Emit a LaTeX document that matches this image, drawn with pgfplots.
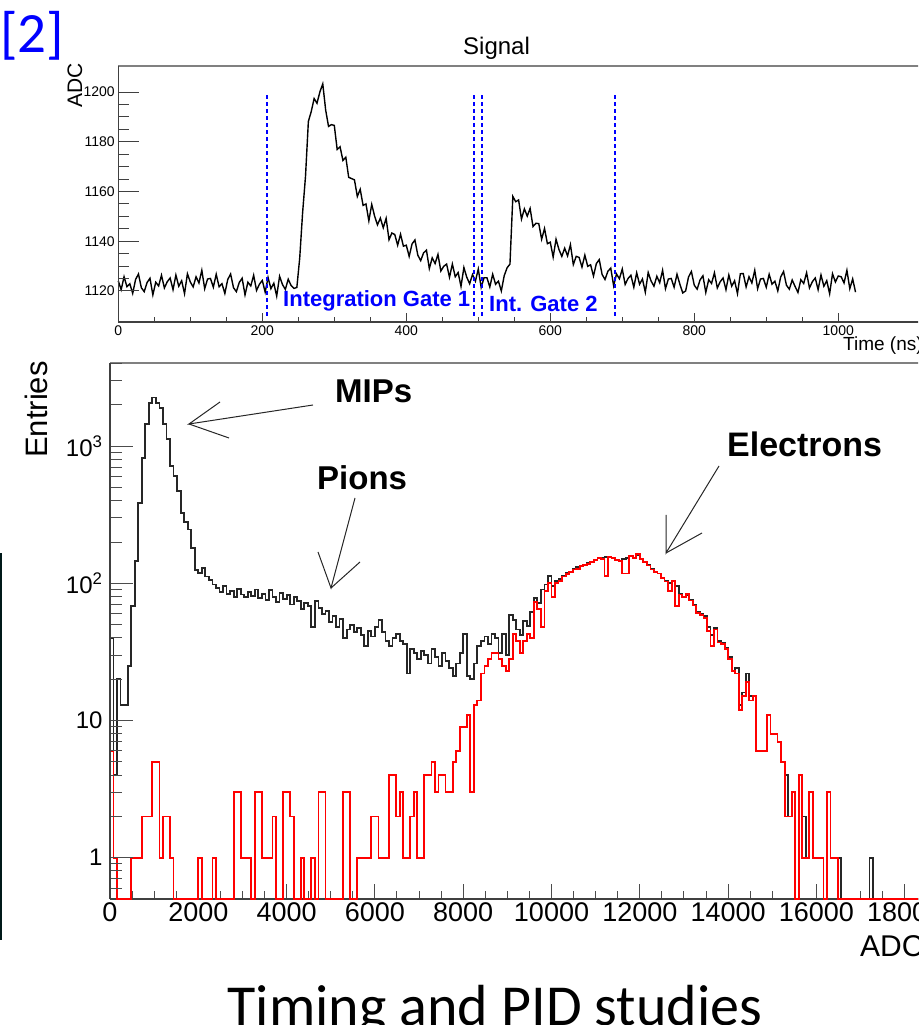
\documentclass[border=0pt]{standalone}
\usepackage{fontspec}
\setmainfont{Liberation Sans}
\newfontfamily\calibrifont{Carlito}
\usepackage{pgfplots}
\usepackage{pgfplotstable}
\pgfplotsset{compat=1.18}
\newcommand\fs[1]{\fontsize{#1}{#1}\selectfont}

% ADC histogram, 80-count bins (left edge, all entries, electrons); 0.5 = empty bin
\pgfplotstableread{
x b r
0 40 6
80 4 1
160 20 0.5
240 13 0.5
320 13 0.5
400 25 0.5
480 68 1
560 145 1
640 387 1
720 823 2
800 1440 2
880 2070 2
960 2260 5
1040 2070 5
1120 1900 1
1200 1440 2
1280 1120 2
1360 715 1
1440 604 0.5
1520 470 0.5
1600 327 0.5
1680 278 0.5
1760 247 0.5
1840 182 0.5
1920 125 0.5
2000 119 1
2080 130 0.5
2160 112 0.5
2240 106 0.5
2320 98 1
2400 92 0.5
2480 86 0.5
2560 95 0.5
2640 84 0.5
2720 88 0.5
2800 80 3
2880 91 3
2960 83 1
3040 79 1
3120 87 1
3200 81 0.5
3280 90 3
3360 78 3
3440 84 1
3520 76 1
3600 89 1
3680 80 2
3760 73 0.5
3840 85 0.5
3920 77 3
4000 82 3
4080 70 2
4160 79 0.5
4240 74 0.5
4320 65 1
4400 72 0.5
4480 68 0.5
4560 48 1
4640 74 0.5
4720 66 3
4800 60 3
4880 63 0.5
4960 52 0.5
5040 58 0.5
5120 48 0.5
5200 55 0.5
5280 40 3
5360 46 3
5440 50 0.5
5520 44 0.5
5600 47 1
5680 42 1
5760 35 1
5840 45 1
5920 41 2
6000 48 2
6080 54 1
6160 44 1
6240 38 1
6320 35 4
6400 40 4
6480 43 2
6560 38 3
6640 36 1
6720 22 1
6800 33 2
6880 31 3
6960 28 1
7040 32 1
7120 30 4
7200 26 4
7280 33 5
7360 29 3
7440 25 4
7520 31 4
7600 27 3
7680 24 3
7760 21 5
7840 26 6
7920 31 9
8000 43 9
8080 21 11
8160 20 3
8240 26 13
8320 35 14
8400 38 22
8480 41 25
8560 36 28
8640 43 31
8720 40 31
8800 31 28
8880 43 25
8960 30 23
9040 59 28
9120 54 43
9200 46 38
9280 42 31
9360 53 38
9440 49 43
9520 62 40
9600 78 73
9680 72 65
9760 90 48
9840 98 88
9920 113 101
10000 96 80
10080 104 100
10160 108 104
10240 114 112
10320 119 117
10400 122 121
10480 127 126
10560 131 128
10640 135 133
10720 137 136
10800 141 139
10880 144 143
10960 148 147
11040 154 153
11120 152 150
11200 155 113
11280 157 156
11360 153 152
11440 148 147
11520 146 145
11600 150 118
11680 152 118
11760 158 158
11840 152 152
11920 160 163
12000 150 150
12080 143 143
12160 136 135
12240 127 126
12320 122 121
12400 118 118
12480 110 109
12560 104 103
12640 101 88
12720 104 104
12800 96 68
12880 84 83
12960 80 80
13040 82 84
13120 76 75
13200 70 69
13280 62 61
13360 60 59
13440 58 56
13520 48 45
13600 42 35
13680 47 46
13760 38 37
13840 37 36
13920 34 33
14000 29 28
14080 23 23
14160 24 22
14240 13 12
14320 16 15
14400 22 19
14480 15 14
14560 15 15
14640 6 6
14720 6 6
14800 6 6
14880 11 11
14960 8 8
15040 8 8
15120 7 7
15200 5 5
15280 4 2
15360 2 2
15440 3 3
15520 0.5 0.5
15600 4 4
15680 2 1
15760 1 1
15840 3 3
15920 1 1
16000 1 1
16080 1 1
16160 0.5 0.5
16240 3 3
16320 1 1
16400 1 1
16480 1 0.5
16560 0.5 0.5
17200 1 0.5
17280 0.5 0.5
18400 0.5 0.5
}\histtab

\begin{document}
\begin{tikzpicture}[x=1pt,y=1pt]
\path[use as bounding box] (0,0) rectangle (918,1025);
\clip (0,0) rectangle (918,1025);

% ---------------- top panel: signal trace ----------------
\begin{axis}[
  at={(118.3pt,703pt)}, anchor=south west,
  scale only axis, width=804.2pt, height=256pt,
  xmin=0, xmax=1117, ymin=1107.5, ymax=1210.5,
  axis line style={black!75, line width=1.2pt},
  tick align=inside, tick style={black!75, line width=1pt},
  tick label style={font=\fs{14}},
  /pgf/number format/1000 sep={}, /pgf/number format/assume math mode=true,
  clip=false,
  hide y axis, axis x line*=bottom, xtick pos=left,
  xtick={0,200,400,600,800,1000}, minor x tick num=3,
  major tick length=9pt, minor tick length=4.5pt,
]
\addplot[black, line width=1.4pt] coordinates {
(0,1124.0) (4,1120.5) (8,1125.7) (12,1121.7) (16,1122.9) (20,1119.0) (24,1124.6) (28,1126.8)
(32,1121.3) (36,1119.7) (40,1123.4) (44,1125.1) (48,1118.4) (52,1123.5) (56,1122.0) (60,1126.3)
(64,1121.2) (68,1123.7) (72,1125.2) (76,1120.5) (80,1126.4) (84,1121.9) (88,1124.1) (92,1118.9)
(96,1126.9) (100,1123.6) (104,1121.6) (108,1125.7) (112,1123.2) (116,1128.3) (120,1120.9) (124,1124.8)
(128,1125.0) (132,1121.5) (136,1126.7) (140,1121.7) (144,1122.9) (148,1119.0) (152,1124.6) (156,1126.8)
(160,1121.3) (164,1119.7) (168,1123.4) (172,1125.1) (176,1118.4) (180,1123.5) (184,1122.0) (188,1126.3)
(192,1120.2) (196,1122.7) (200,1124.2) (204,1119.5) (208,1125.4) (212,1120.9) (216,1123.1) (220,1117.9)
(224,1125.9) (228,1122.6) (232,1120.6) (236,1124.7) (240,1122.2) (244,1121.0) (248,1121.4) (252,1133.3)
(256,1151.5) (260,1166.0) (264,1188.2) (268,1192.2) (272,1197.4) (276,1195.5) (280,1200.1) (284,1203.3)
(288,1192.8) (292,1186.2) (296,1186.9) (300,1186.6) (304,1176.9) (308,1178.0) (312,1172.5) (316,1173.8)
(320,1165.7) (324,1165.2) (328,1164.7) (332,1158.0) (336,1160.9) (340,1154.4) (344,1155.0) (348,1148.2)
(352,1154.8) (356,1150.1) (360,1146.6) (364,1149.3) (368,1145.4) (372,1149.2) (376,1140.6) (380,1143.3)
(384,1142.7) (388,1138.4) (392,1142.8) (396,1138.0) (400,1138.4) (404,1133.9) (408,1138.9) (412,1140.5)
(416,1134.4) (420,1132.2) (424,1135.3) (428,1136.4) (432,1129.0) (436,1133.3) (440,1131.0) (444,1134.7)
(448,1128.0) (452,1129.9) (456,1130.8) (460,1125.5) (464,1130.8) (468,1125.7) (472,1127.4) (476,1121.8)
(480,1129.4) (484,1125.5) (488,1122.9) (492,1126.6) (496,1123.9) (500,1128.8) (504,1121.4) (508,1125.3)
(512,1125.3) (516,1121.6) (520,1126.7) (524,1122.7) (528,1123.9) (532,1120.0) (536,1126.1) (540,1129.3)
(544,1130.8) (548,1158.0) (552,1155.9) (556,1156.6) (560,1148.9) (564,1153.0) (568,1150.1) (572,1153.2)
(576,1145.9) (580,1147.2) (584,1147.1) (588,1140.8) (592,1145.1) (596,1139.0) (600,1139.6) (604,1133.6)
(608,1140.8) (612,1136.7) (616,1133.9) (620,1137.2) (624,1134.1) (628,1138.6) (632,1130.6) (636,1133.9)
(640,1133.5) (644,1129.6) (648,1134.4) (652,1129.9) (656,1130.5) (660,1126.0) (664,1131.0) (668,1132.6)
(672,1126.6) (676,1124.6) (680,1127.9) (684,1129.2) (688,1122.1) (692,1126.8) (696,1124.9) (700,1128.8)
(704,1122.6) (708,1125.0) (712,1126.3) (716,1121.5) (720,1127.3) (724,1122.7) (728,1124.8) (732,1119.5)
(736,1127.4) (740,1124.0) (744,1121.9) (748,1125.9) (752,1123.3) (756,1128.3) (760,1120.9) (764,1124.8)
(768,1125.0) (772,1121.5) (776,1126.7) (780,1122.7) (784,1119.2) (788,1120.0) (792,1125.6) (796,1127.8)
(800,1122.3) (804,1120.7) (808,1124.4) (812,1126.1) (816,1119.4) (820,1124.5) (824,1123.0) (828,1127.3)
(832,1121.2) (836,1123.7) (840,1125.2) (844,1120.5) (848,1126.4) (852,1121.9) (856,1124.1) (860,1118.9)
(864,1126.9) (868,1127.0) (872,1121.6) (876,1125.7) (880,1123.2) (884,1128.3) (888,1120.9) (892,1124.8)
(896,1125.0) (900,1121.5) (904,1126.7) (908,1122.7) (912,1123.9) (916,1120.0) (920,1125.6) (924,1127.8)
(928,1122.3) (932,1120.7) (936,1124.4) (940,1121.8) (944,1119.4) (948,1124.5) (952,1123.0) (956,1127.3)
(960,1121.2) (964,1123.7) (968,1125.2) (972,1120.5) (976,1126.4) (980,1121.9) (984,1124.1) (988,1118.9)
(992,1126.9) (996,1123.6) (1000,1126.0) (1004,1125.7) (1008,1123.2) (1012,1128.3) (1016,1120.9) (1020,1124.8)
(1024,1119.5)
};
% integration gates
\addplot[blue, line width=1.7pt, dash pattern=on 4pt off 3pt, unbounded coords=jump] coordinates {
(207,1110) (207,1200) (207,nan) (494,1110) (494,1200) (494,nan)
(505,1110) (505,1200) (505,nan) (690,1110) (690,1200)};
\draw[gray, line width=1.2pt] (rel axis cs:0,1) -- (rel axis cs:1,1);
\end{axis}
% y axis of the top panel (own tick lengths)
\begin{axis}[
  at={(118.3pt,703pt)}, anchor=south west,
  scale only axis, width=804.2pt, height=256pt,
  xmin=0, xmax=1117, ymin=1107.5, ymax=1210.5,
  axis line style={black!75, line width=1.2pt},
  tick align=inside, tick style={black!75, line width=1pt},
  tick label style={font=\fs{14}},
  /pgf/number format/1000 sep={}, /pgf/number format/assume math mode=true,
  hide x axis, axis y line*=left, ytick pos=left,
  ytick={1120,1140,1160,1180,1200}, minor y tick num=3,
  major tick length=21pt, minor tick length=11pt,
]
\end{axis}

% ---------------- bottom panel: ADC spectrum ----------------
\begin{axis}[
  at={(110pt,126pt)}, anchor=south west,
  scale only axis, width=812.4pt, height=536pt,
  ymode=log, xmin=0, xmax=18400, ymin=0.5, ymax=4036,
  axis line style={black!75, line width=1.2pt},
  tick align=inside, tick style={black!70, line width=1pt},
  /pgf/number format/1000 sep={}, /pgf/number format/assume math mode=true,
  scaled x ticks=false, clip=false,
  hide y axis, axis x line*=bottom, xtick pos=left,
  xtick={0,2000,4000,6000,8000,10000,12000,14000,16000,18000}, minor x tick num=3,
  major tick length=15pt, minor tick length=8pt,
  xticklabel style={font=\fs{27}},
]
\addplot[const plot, black!85, line width=1.8pt] table[x=x, y=b] {\histtab};
\addplot[const plot, red, line width=1.8pt] table[x=x, y=r] {\histtab};
\draw[gray, line width=1.2pt] (rel axis cs:0,1) -- (rel axis cs:1,1);
\end{axis}
\begin{axis}[
  at={(110pt,126pt)}, anchor=south west,
  scale only axis, width=812.4pt, height=536pt,
  ymode=log, xmin=0, xmax=18400, ymin=0.5, ymax=4036,
  axis line style={black!75, line width=1.2pt},
  tick align=inside, tick style={black!70, line width=1pt},
  hide x axis, axis y line*=left, ytick pos=left,
  ytick={1,10,100,1000},
  yticklabels={1,10,10\textsuperscript{2},10\textsuperscript{3}},
  minor ytick={0.6,0.7,0.8,0.9,2,3,4,5,6,7,8,9,20,30,40,50,60,70,80,90,200,300,400,500,600,700,800,900,2000,3000,4000},
  major tick length=23pt, minor tick length=12pt,
  yticklabel style={font=\fs{24}, xshift=-4pt},
]
\end{axis}

% ---------------- labels ----------------
\node[anchor=base west, inner sep=0, font=\fs{24}] at (463,970) {Signal};
\node[anchor=base west, inner sep=0, font=\fs{21}, rotate=90] at (82,917) {ADC};
\node[anchor=base west, inner sep=0, font=\fs{19}] at (843,674) {Time (ns)};
\node[anchor=base west, inner sep=0, font=\bfseries\fs{22}, text=blue] at (283,718) {Integration Gate 1};
\node[anchor=base west, inner sep=0, font=\bfseries\fs{22}, text=blue] at (489,713) {Int. Gate 2};

\node[anchor=base west, inner sep=0, font=\fs{31}, rotate=90] at (47,567) {Entries};
\node[anchor=base west, inner sep=0, font=\fs{30}] at (860,68) {ADC};
\node[anchor=base west, inner sep=0, font=\bfseries\fs{33}] at (335,622) {MIPs};
\node[anchor=base west, inner sep=0, font=\bfseries\fs{33}] at (317,535) {Pions};
\node[anchor=base west, inner sep=0, font=\bfseries\fs{34}] at (727,568) {Electrons};

% annotation arrows (open V heads)
\draw[black!85, line width=1pt] (313,620) -- (189,601) -- (220,623);
\draw[black!85, line width=1pt] (189,601) -- (229,587);
\draw[black!85, line width=1pt] (355,527) -- (331,437) -- (318,473);
\draw[black!85, line width=1pt] (331,437) -- (360,463);
\draw[black!85, line width=1pt] (719,559) -- (666,472) -- (666,510);
\draw[black!85, line width=1pt] (666,472) -- (702,492);

% slide text
\node[anchor=base west, inner sep=0, font=\calibrifont\fs{57}, text=blue] at (0,972) {[2]};
\node[anchor=base, inner sep=0, font=\calibrifont\fs{58}] at (495,0) {Timing and PID studies};
\fill[black!80!teal] (0,85) rectangle (2,472);
\end{tikzpicture}
\end{document}
